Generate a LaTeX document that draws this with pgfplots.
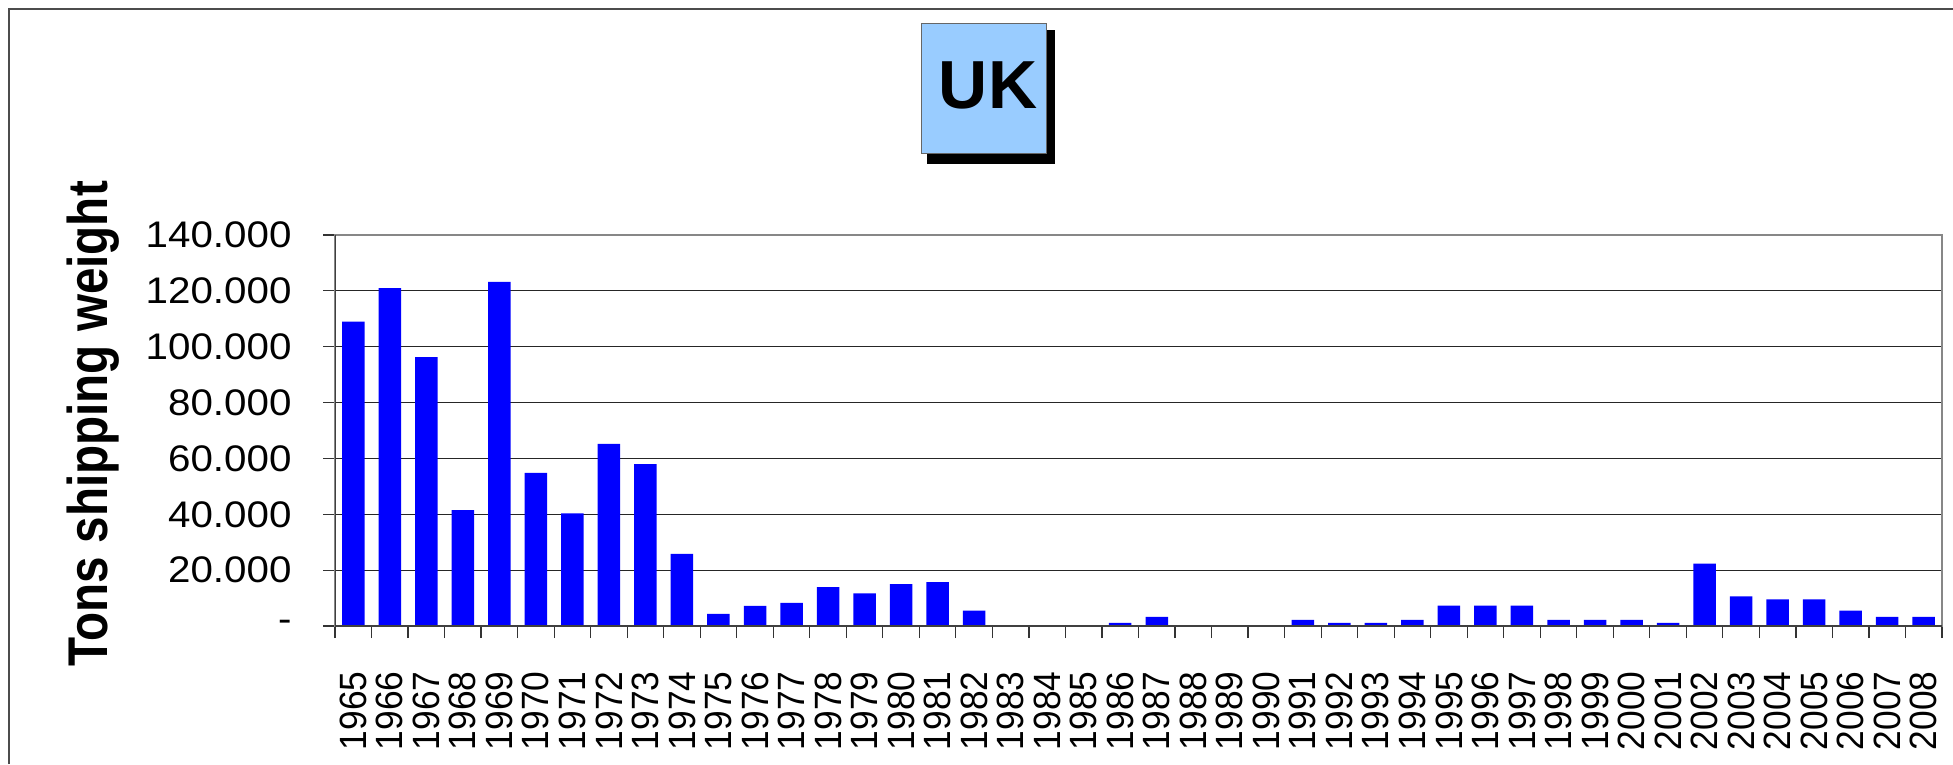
\documentclass[border=0pt]{standalone}
\usepackage{fontspec}
\setmainfont{Liberation Sans}
\newfontfamily\ytfont[FakeStretch=1.09]{Liberation Sans}
\newfontfamily\xtfont[FakeStretch=0.93]{Liberation Sans}
\newfontfamily\ylfont[FakeStretch=0.85]{Liberation Sans}
\usepackage{pgfplots}
\pgfplotsset{compat=1.18}
\usepackage{pgfplotstable}
\definecolor{barblue}{HTML}{0000FF}
\definecolor{titlefill}{HTML}{99CCFF}
\pgfplotstableread{
idx year tons
0 1965 109000
1 1966 121000
2 1967 96300
3 1968 41500
4 1969 123200
5 1970 54800
6 1971 40300
7 1972 65200
8 1973 58000
9 1974 25800
10 1975 4300
11 1976 7200
12 1977 8300
13 1978 13900
14 1979 11700
15 1980 15000
16 1981 15700
17 1982 5500
18 1983 0
19 1984 0
20 1985 0
21 1986 1100
22 1987 3300
23 1988 0
24 1989 0
25 1990 0
26 1991 2200
27 1992 1100
28 1993 1100
29 1994 2200
30 1995 7300
31 1996 7300
32 1997 7300
33 1998 2200
34 1999 2200
35 2000 2200
36 2001 1100
37 2002 22300
38 2003 10600
39 2004 9500
40 2005 9500
41 2006 5500
42 2007 3300
43 2008 3300
}\datatable
\begin{document}
\begin{tikzpicture}
\useasboundingbox (0pt,0pt) rectangle (1953pt,764pt);
\draw[black!70, line width=1.5pt] (9pt,0pt) -- (9pt,755pt) -- (1953pt,755pt);
\begin{axis}[
  at={(335pt,138pt)}, anchor=south west,
  scale only axis, width=1607pt, height=391pt,
  xmin=-0.5, xmax=43.5, ymin=0, ymax=140000,
  ybar, bar width=22.5pt,
  xtick={-0.5,0.5,...,43.5},
  x tick label as interval,
  xticklabels={1965,1966,1967,1968,1969,1970,1971,1972,1973,1974,1975,1976,1977,1978,1979,1980,1981,1982,1983,1984,1985,1986,1987,1988,1989,1990,1991,1992,1993,1994,1995,1996,1997,1998,1999,2000,2001,2002,2003,2004,2005,2006,2007,2008},
  ytick={0,20000,40000,60000,80000,100000,120000,140000},
  yticklabels={{-\hspace{45pt}},20.000,40.000,60.000,80.000,100.000,120.000,140.000},
  scaled y ticks=false,
  tick pos=left,
  ymajorgrids, grid style={black!85, line width=0.9pt},
  tick align=outside, major tick length=12pt,
  tick style={black!80, line width=1.2pt},
  axis line style={black!47, line width=2.6pt},
  xticklabel style={rotate=90, anchor=east, font=\xtfont\fontsize{38pt}{40pt}\selectfont},
  yticklabel style={font=\ytfont\fontsize{37pt}{40pt}\selectfont},
  xticklabel shift=30pt, yticklabel shift=28pt,
]
\addplot[fill=barblue, draw=none] table[x=idx, y=tons]{\datatable};
\draw[black!75, line width=2pt] (rel axis cs:0,1) -- (rel axis cs:0,0) -- (rel axis cs:1,0);
\end{axis}
\fill[black] (927pt,600pt) rectangle (1055pt,734pt);
\draw[fill=titlefill, draw=black!60, line width=1pt] (921pt,610pt) rectangle (1046pt,740pt);
\node at (988pt,679pt) {\bfseries\fontsize{68pt}{70pt}\selectfont UK};
\node[rotate=90, anchor=base] at (107pt,340pt) {\ylfont\bfseries\fontsize{56pt}{60pt}\selectfont Tons shipping weight};
\end{tikzpicture}
\end{document}
